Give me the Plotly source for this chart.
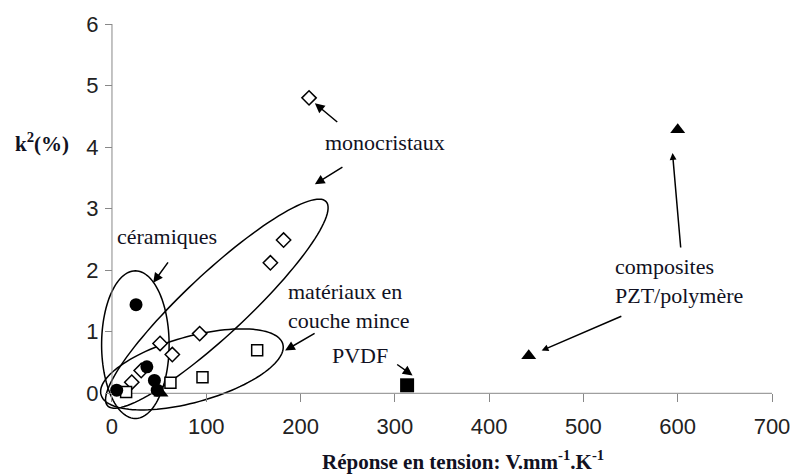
import numpy as np
import plotly.graph_objects as go

# ---- data ----
mono_x = [209, 182, 168, 93, 51, 64, 31, 21]
mono_y = [4.80, 2.49, 2.12, 0.97, 0.81, 0.63, 0.37, 0.18]

couche_x = [154, 96, 62, 15]
couche_y = [0.70, 0.26, 0.17, 0.02]

ceram_x = [25.5, 37, 45, 48, 5]
ceram_y = [1.44, 0.43, 0.21, 0.05, 0.05]

pvdf_x = [313]
pvdf_y = [0.13]

compo_x = [600, 442, 52]
compo_y = [4.28, 0.61, 0.0]

x_ticks = [0, 100, 200, 300, 400, 500, 600, 700]
y_ticks = [0, 1, 2, 3, 4, 5, 6]

XR = [-18, 700]
YR = [-0.45, 6]

fig = go.Figure()

fig.add_trace(go.Scatter(x=mono_x, y=mono_y, mode="markers", cliponaxis=False,
                         marker=dict(symbol="diamond", size=11, color="white",
                                     line=dict(color="black", width=1.5))))
fig.add_trace(go.Scatter(x=couche_x, y=couche_y, mode="markers", cliponaxis=False,
                         marker=dict(symbol="square", size=11, color="white",
                                     line=dict(color="black", width=1.5))))
fig.add_trace(go.Scatter(x=ceram_x, y=ceram_y, mode="markers", cliponaxis=False,
                         marker=dict(symbol="circle", size=13, color="black")))
fig.add_trace(go.Scatter(x=pvdf_x, y=pvdf_y, mode="markers", cliponaxis=False,
                         marker=dict(symbol="square", size=14, color="black")))
fig.add_trace(go.Scatter(x=compo_x, y=compo_y, mode="markers", cliponaxis=False,
                         marker=dict(symbol="triangle-up", size=13, color="black")))


def ellipse_path(cx, cy, ux, uy, vx, vy, n=120):
    t = np.linspace(0, 2 * np.pi, n)
    xs = cx + np.cos(t) * ux + np.sin(t) * vx
    ys = cy + np.cos(t) * uy + np.sin(t) * vy
    p = "M %.3f,%.4f" % (xs[0], ys[0])
    for a, b in zip(xs[1:], ys[1:]):
        p += " L %.3f,%.4f" % (a, b)
    return p + " Z"


ellipses = [
    (24.8, 0.79, 0, 1.2, 35.8, 0),               # céramiques
    (111.2, 1.456, 115.9, 1.658, 22.3, -0.367),  # monocristaux
    (84.8, 0.388, 96.4, 0.412, 9.3, -0.514),     # couche mince
]
shapes = []
for e in ellipses:
    shapes.append(dict(type="path", path=ellipse_path(*e), xref="x", yref="y",
                       line=dict(color="black", width=1.5), layer="below"))
# axis lines
shapes.append(dict(type="line", x0=0, x1=0, y0=0, y1=6, xref="x", yref="y",
                   line=dict(color="#888888", width=1), layer="below"))
shapes.append(dict(type="line", x0=0, x1=700, y0=0, y1=0, xref="x", yref="y",
                   line=dict(color="#888888", width=1), layer="below"))

serif = "Liberation Serif, Times New Roman, serif"
tfont = dict(family=serif, size=22, color="#111122")

annotations = []
# arrows: (head_x, head_y, tail_x, tail_y, size)
arrows = [
    (43.7, 1.795, 60.6, 2.151, 1.0),
    (215.2, 4.711, 240.5, 4.388, 1.0),
    (215.2, 3.396, 246.0, 3.688, 1.0),
    (183.6, 0.695, 216.5, 0.987, 1.0),
    (318.8, 0.291, 300.9, 0.485, 1.0),
    (594.5, 3.903, 603.3, 2.345, 0.7),
    (455.7, 0.695, 541.8, 1.262, 0.7),
]
for hx, hy, tx, ty, s in arrows:
    annotations.append(dict(x=hx, y=hy, ax=tx, ay=ty, xref="x", yref="y",
                            axref="x", ayref="y", text="", showarrow=True,
                            arrowhead=2, arrowsize=s * 1.3, arrowwidth=1.5,
                            arrowcolor="black"))

labels = [
    ("céramiques", 58.5, 2.54, "center"),
    ("monocristaux", 289.3, 4.076, "center"),
    ("matériaux en<br>couche mince", 184.9, 1.415, "left"),
    ("PVDF", 262.9, 0.615, "center"),
    ("composites<br>PZT/polymère", 531.6, 1.828, "left"),
]
for txt, x, y, xa in labels:
    annotations.append(dict(x=x, y=y, xref="x", yref="y", text=txt, showarrow=False,
                            xanchor=xa, yanchor="middle", align="left", font=tfont))

annotations.append(dict(x=0.544, y=-0.10, xref="paper", yref="paper",
                        xanchor="center", yanchor="middle",
                        text="<b>Réponse en tension: V.mm<sup>-1</sup>.K<sup>-1</sup></b>",
                        showarrow=False, font=dict(family=serif, size=21, color="#111122")))
annotations.append(dict(x=-0.079, y=0.702, xref="paper", yref="paper",
                        xanchor="center", yanchor="middle",
                        text="<b>k<sup>2</sup>(%)</b>",
                        showarrow=False, font=dict(family=serif, size=21, color="#111122")))

sans = "Liberation Sans, Arial, sans-serif"
fig.update_layout(
    width=802, height=475,
    margin=dict(l=95, r=25, t=22, b=54),
    plot_bgcolor="white", paper_bgcolor="white",
    showlegend=False,
    shapes=shapes, annotations=annotations,
    xaxis=dict(range=XR, tickvals=x_ticks, ticktext=[str(v) for v in x_ticks],
               showgrid=False, zeroline=False, showline=False,
               anchor="free", position=(0 - YR[0]) / (YR[1] - YR[0]),
               ticks="outside", ticklen=8, tickcolor="#888888",
               ticklabelstandoff=5,
               tickfont=dict(family=sans, size=22, color="#222222")),
    yaxis=dict(range=YR, tickvals=y_ticks, ticktext=[str(v) for v in y_ticks],
               showgrid=False, zeroline=False, showline=False,
               anchor="free", position=(0 - XR[0]) / (XR[1] - XR[0]),
               ticks="outside", ticklen=7, tickcolor="#888888",
               ticklabelstandoff=2,
               tickfont=dict(family=sans, size=22, color="#222222")),
)

fig.write_html("out.html", config={"displayModeBar": False},
               post_script="document.body.style.margin='0';")
